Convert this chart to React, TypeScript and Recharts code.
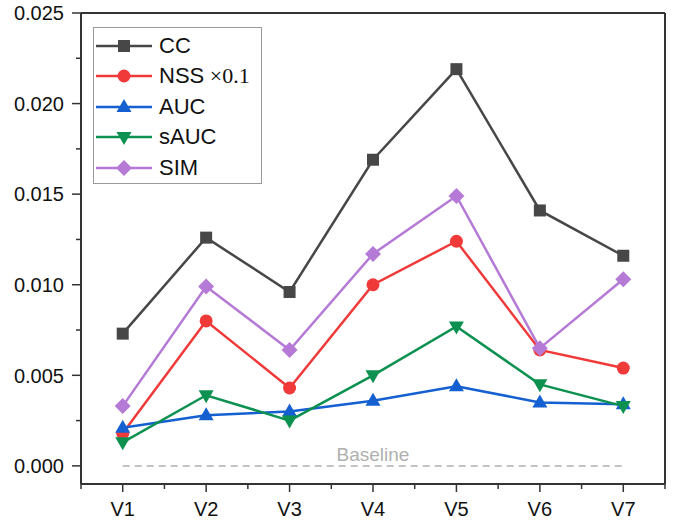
import React from "react";
import {
  LineChart,
  Line,
  XAxis,
  YAxis,
  ReferenceLine,
  Legend
} from "recharts";

const categories = ["V1", "V2", "V3", "V4", "V5", "V6", "V7"];
const ccValues = [0.0073, 0.0126, 0.0096, 0.0169, 0.0219, 0.0141, 0.0116];
const nssValues = [0.0018, 0.008, 0.0043, 0.01, 0.0124, 0.0064, 0.0054];
const aucValues = [0.0021, 0.0028, 0.003, 0.0036, 0.0044, 0.0035, 0.0034];
const sAucValues = [0.0013, 0.0039, 0.0025, 0.005, 0.0077, 0.0045, 0.0033];
const simValues = [0.0033, 0.0099, 0.0064, 0.0117, 0.0149, 0.0065, 0.0103];
const yTicks = [0, 0.0025, 0.005, 0.0075, 0.01, 0.0125, 0.015, 0.0175, 0.02, 0.0225, 0.025];

const data = categories.map((name, i) => ({
  name,
  cc: ccValues[i],
  nss: nssValues[i],
  auc: aucValues[i],
  sauc: sAucValues[i],
  sim: simValues[i]
}));

const FONT = '"Liberation Sans", Arial, sans-serif';
const AXIS = "#333333";
const HALF_BAND = 584 / 7 / 2;

type Shape = "square" | "circle" | "up" | "down" | "diamond";

const series: { key: string; label: string; color: string; shape: Shape }[] = [
  { key: "cc", label: "CC", color: "#474747", shape: "square" },
  { key: "nss", label: "NSS", color: "#f03a3a", shape: "circle" },
  { key: "auc", label: "AUC", color: "#1560d0", shape: "up" },
  { key: "sauc", label: "sAUC", color: "#0c9150", shape: "down" },
  { key: "sim", label: "SIM", color: "#b57ad6", shape: "diamond" }
];

function Marker({ cx, cy, shape, color }: { cx: number; cy: number; shape: Shape; color: string }) {
  if (shape === "square") return <rect x={cx - 6} y={cy - 6} width={12} height={12} fill={color} />;
  if (shape === "circle") return <circle cx={cx} cy={cy} r={6.5} fill={color} />;
  if (shape === "up")
    return <polygon points={`${cx},${cy - 8} ${cx - 7.5},${cy + 5} ${cx + 7.5},${cy + 5}`} fill={color} />;
  if (shape === "down")
    return <polygon points={`${cx},${cy + 8} ${cx - 7.5},${cy - 5} ${cx + 7.5},${cy - 5}`} fill={color} />;
  return <polygon points={`${cx},${cy - 8} ${cx + 8},${cy} ${cx},${cy + 8} ${cx - 8},${cy}`} fill={color} />;
}

const makeDot = (shape: Shape, color: string) => (props: any) => (
  <Marker key={props.index} cx={props.cx} cy={props.cy} shape={shape} color={color} />
);

function YTick(props: any) {
  const { x, y, payload } = props;
  const major = Math.round(payload.value / 0.0025) % 2 === 0;
  return (
    <g>
      <line x1={x - (major ? 9 : 5)} x2={x} y1={y} y2={y} stroke={AXIS} strokeWidth={1.5} />
      {major && (
        <text x={x - 17} y={y} dy="0.36em" textAnchor="end" fontSize={20} fontFamily={FONT} fill="#111">
          {payload.value.toFixed(3)}
        </text>
      )}
    </g>
  );
}

function XTick(props: any) {
  const { x, y, payload, index } = props;
  return (
    <g>
      <line x1={x} x2={x} y1={y} y2={y + 8} stroke={AXIS} strokeWidth={1.5} />
      <line x1={x - HALF_BAND} x2={x - HALF_BAND} y1={y} y2={y + 5} stroke={AXIS} strokeWidth={1.5} />
      {index === categories.length - 1 && (
        <line x1={x + HALF_BAND} x2={x + HALF_BAND} y1={y} y2={y + 5} stroke={AXIS} strokeWidth={1.5} />
      )}
      <text x={x} y={y + 32} textAnchor="middle" fontSize={20} fontFamily={FONT} fill="#111">
        {payload.value}
      </text>
    </g>
  );
}

function LegendBox() {
  return (
    <div
      style={{
        border: "1px solid #9a9a9a",
        background: "#fff",
        width: 167,
        paddingTop: 2.5,
        paddingBottom: 0,
        fontFamily: FONT,
        fontSize: 22,
        color: "#111"
      }}
    >
      {series.map((s) => (
        <div key={s.key} style={{ display: "flex", alignItems: "center", height: 30.5 }}>
          <svg width={62} height={30} style={{ display: "block" }}>
            <line x1={2} x2={58} y1={15} y2={15} stroke={s.color} strokeWidth={2.5} />
            <Marker cx={30} cy={15} shape={s.shape} color={s.color} />
          </svg>
          <span style={{ marginLeft: 3, lineHeight: "30px" }}>
            {s.label}
            {s.key === "nss" && (
              <span style={{ fontFamily: '"Liberation Serif", "Times New Roman", serif' }}> ×0.1</span>
            )}
          </span>
        </div>
      ))}
    </div>
  );
}

export default function App() {
  return (
    <div style={{ position: "absolute", left: 0, top: 0, width: 681, height: 522, background: "#fff" }}>
      <LineChart width={681} height={522} data={data} margin={{ top: 12, right: 15, bottom: 0, left: 0 }}>
        <XAxis
          dataKey="name"
          height={38}
          padding={{ left: HALF_BAND, right: HALF_BAND }}
          axisLine={{ stroke: AXIS, strokeWidth: 2 }}
          tickLine={false}
          tickSize={0}
          tickMargin={0}
          interval={0}
          tick={<XTick />}
        />
        <XAxis
          xAxisId="top"
          dataKey="name"
          orientation="top"
          height={1}
          padding={{ left: HALF_BAND, right: HALF_BAND }}
          axisLine={{ stroke: AXIS, strokeWidth: 2 }}
          tick={false}
          tickLine={false}
        />
        <YAxis
          width={81}
          domain={[-0.001, 0.025]}
          ticks={yTicks}
          interval={0}
          allowDataOverflow
          axisLine={{ stroke: AXIS, strokeWidth: 2 }}
          tickLine={false}
          tickSize={0}
          tickMargin={0}
          tick={<YTick />}
        />
        <YAxis
          yAxisId="right"
          orientation="right"
          width={1}
          domain={[-0.001, 0.025]}
          allowDataOverflow
          axisLine={{ stroke: AXIS, strokeWidth: 2 }}
          tick={false}
          tickLine={false}
        />
        <ReferenceLine
          segment={[
            { x: "V1", y: 0 },
            { x: "V7", y: 0 }
          ]}
          stroke="#c4c4c4"
          strokeWidth={2}
          strokeDasharray="7 5"
        />
        <ReferenceLine
          y={0}
          stroke="none"
          label={{
            value: "Baseline",
            position: "top",
            offset: 5,
            fill: "#b0b0b0",
            fontSize: 19,
            fontFamily: FONT
          }}
        />
        {series.map((s) => (
          <Line
            key={s.key}
            dataKey={s.key}
            stroke={s.color}
            strokeWidth={2.5}
            dot={makeDot(s.shape, s.color)}
            activeDot={false}
            isAnimationActive={false}
          />
        ))}
        <Legend
          layout="vertical"
          align="center"
          verticalAlign="middle"
          content={<LegendBox />}
          wrapperStyle={{ position: "absolute", left: 93, top: 27, width: 169, height: "auto" }}
        />
      </LineChart>
    </div>
  );
}
